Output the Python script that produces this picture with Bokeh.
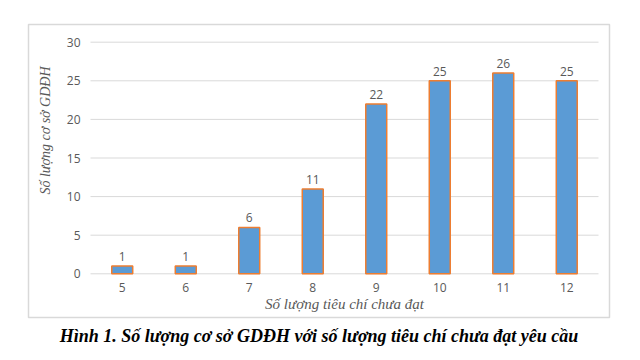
import math
from bokeh.plotting import figure
from bokeh.models import Range1d, ColumnDataSource, LabelSet, Label
from bokeh.core.properties import value
from bokeh.embed import file_html
from bokeh.resources import INLINE

categories = [5, 6, 7, 8, 9, 10, 11, 12]
counts = [1, 1, 6, 11, 22, 25, 26, 25]
y_ticks = [0, 5, 10, 15, 20, 25, 30]
x_title = "Số lượng tiêu chí chưa đạt"
y_title = "Số lượng cơ sở GDĐH"
caption = "Hình 1. Số lượng cơ sở GDĐH với số lượng tiêu chí chưa đạt yêu cầu"

# layout (pixels): chart-area box and plot area inside it
W, H = 624, 352
box_l, box_t, box_r, box_b = 28, 24, 609, 317
plot_l, plot_t, plot_r, plot_b = 90, 41.7, 598, 273.3
caption_y = 335.7

x0, x1 = categories[0] - 0.5, categories[-1] + 0.5
y0, y1 = y_ticks[0], y_ticks[-1]
px_x = (plot_r - plot_l) / (x1 - x0)
px_y = (plot_b - plot_t) / (y1 - y0)


def dx(px):
    return x0 + (px - plot_l) / px_x


def dy(py):
    return y0 + (plot_b - py) / px_y


p = figure(width=W, height=H, output_backend="svg", toolbar_location=None,
           x_range=Range1d(dx(0), dx(W)), y_range=Range1d(dy(H), dy(0)),
           min_border_left=0, min_border_right=0, min_border_top=0, min_border_bottom=0)
p.xaxis.visible = False
p.yaxis.visible = False
p.xgrid.visible = False
p.ygrid.visible = False
p.outline_line_color = None
p.background_fill_color = "white"
p.border_fill_color = "white"

# chart-area box
p.quad(left=[dx(box_l)], right=[dx(box_r)], top=[dy(box_t)], bottom=[dy(box_b)],
       fill_color=None, line_color="#d9d9d9", line_width=1.5)

# gridlines
p.segment(x0=[x0] * len(y_ticks), x1=[x1] * len(y_ticks), y0=y_ticks, y1=y_ticks,
          line_color="#d9d9d9", line_width=1)

src = ColumnDataSource(dict(x=categories, y=counts, lbl=[str(c) for c in counts]))
p.vbar(x="x", top="y", width=0.33, source=src, fill_color="#5B9BD5",
       line_color="#ED7D31", line_width=1.5)

p.add_layout(LabelSet(x="x", y="y", text="lbl", source=src, text_align="center",
                      text_baseline="bottom", y_offset=5, text_font_size=value("12px"),
                      text_color="#595959", text_font=value("Open Sans")))

# y tick labels
ysrc = ColumnDataSource(dict(x=[x0] * len(y_ticks), y=y_ticks, t=[str(v) for v in y_ticks]))
p.add_layout(LabelSet(x="x", y="y", text="t", source=ysrc, text_align="right",
                      text_baseline="middle", x_offset=-10, text_font_size=value("12px"),
                      text_color="#595959", text_font=value("Open Sans")))

# x tick labels
xsrc = ColumnDataSource(dict(x=categories, y=[y0] * len(categories), t=[str(c) for c in categories]))
p.add_layout(LabelSet(x="x", y="y", text="t", source=xsrc, text_align="center",
                      text_baseline="middle", y_offset=-14, text_font_size=value("12px"),
                      text_color="#595959", text_font=value("Open Sans")))

# axis titles
p.add_layout(Label(x=(x0 + x1) / 2, y=y0, y_offset=-30, text=x_title,
                   text_align="center", text_baseline="middle",
                   text_font="Liberation Serif", text_font_style="italic",
                   text_font_size="15px", text_color="#595959"))
p.add_layout(Label(x=x0, x_offset=-45, y=y0, y_offset=plot_b - 130, text=y_title,
                   angle=math.pi / 2, text_align="center", text_baseline="middle",
                   text_font="Liberation Serif", text_font_style="italic",
                   text_font_size="14px", text_color="#595959"))

# caption
p.add_layout(Label(x=dx((box_l + box_r) / 2), y=y0, y_offset=plot_b - caption_y, text=caption,
                   text_align="center", text_baseline="middle",
                   text_font="Liberation Serif", text_font_style="bold italic",
                   text_font_size="18px", text_color="black"))

open("out.html", "w").write(file_html(p, INLINE))
